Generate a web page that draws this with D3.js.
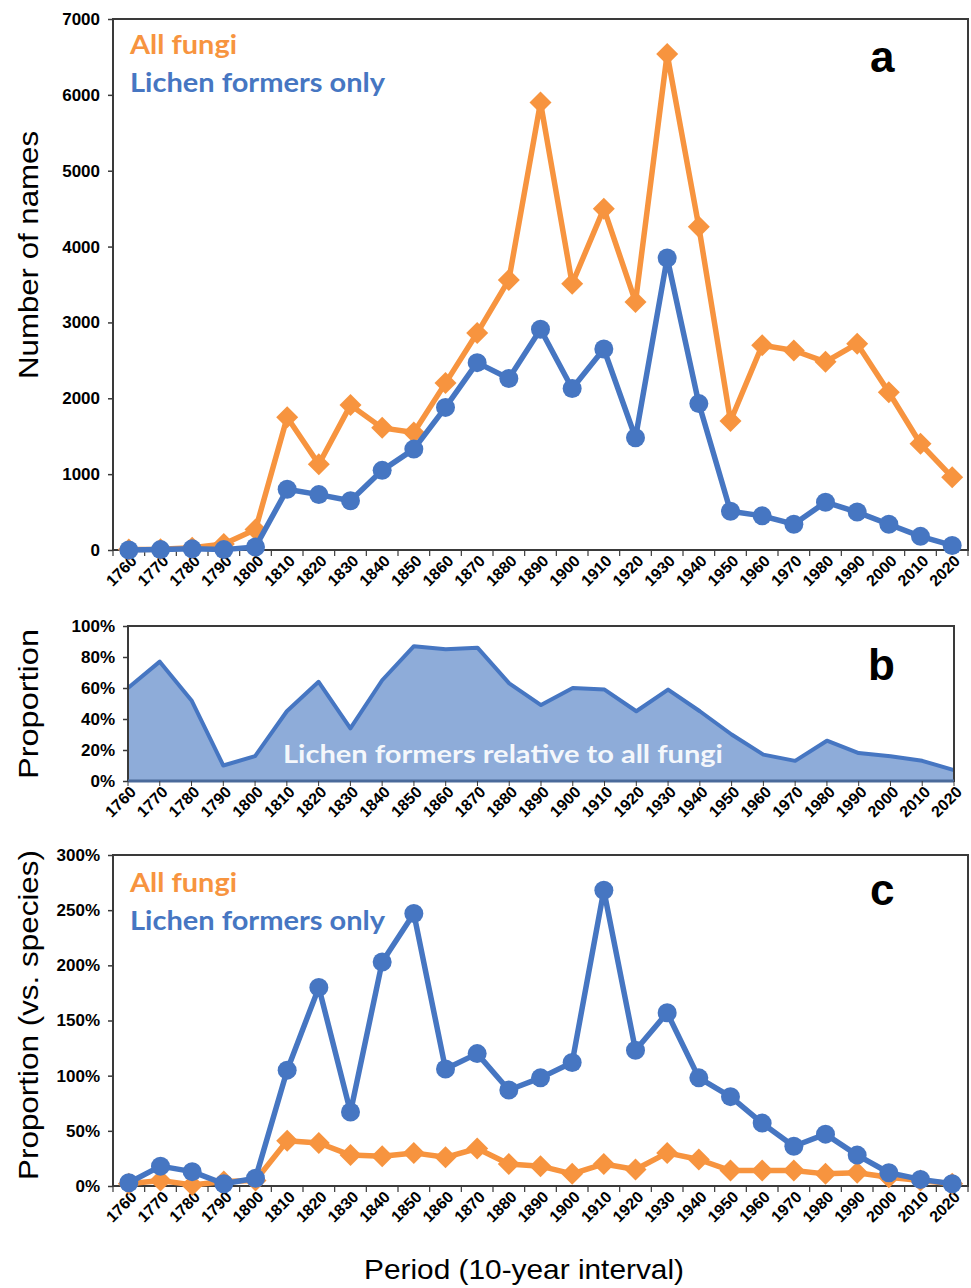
<!DOCTYPE html>
<html>
<head>
<meta charset="utf-8">
<script src="https://cdn.jsdelivr.net/npm/d3@7"></script>
<style>
  body { margin: 0; background: #fff; }
  svg { display: block; }
  .tick text { font-family: "Liberation Sans", Arial, sans-serif; font-weight: bold; fill: #000; }
</style>
</head>
<body>
<svg id="chart" width="971" height="1288"></svg>
<script>
// periode 10 tahunan
const periods = ["1760","1770","1780","1790","1800","1810","1820","1830","1840","1850","1860","1870","1880","1890",
                 "1900","1910","1920","1930","1940","1950","1960","1970","1980","1990","2000","2010","2020"];

// panel a: jumlah nama
const allFungiNames = [5, 10, 30, 80, 270, 1750, 1130, 1910, 1610, 1550, 2200, 2860, 3560, 5900,
                       3510, 4500, 3270, 6540, 4260, 1700, 2700, 2630, 2480, 2720, 2080, 1400, 960];
const lichenNames = [0, 5, 15, 5, 40, 800, 730, 650, 1050, 1330, 1880, 2470, 2260, 2910,
                     2130, 2650, 1480, 3850, 1930, 510, 450, 340, 630, 500, 340, 180, 60];

// panel b: proporsi lichen terhadap semua fungi
const lichenShare = [0.60, 0.77, 0.52, 0.10, 0.16, 0.45, 0.64, 0.34, 0.65, 0.87, 0.85, 0.86, 0.63, 0.49,
                     0.60, 0.59, 0.45, 0.59, 0.45, 0.30, 0.17, 0.13, 0.26, 0.18, 0.16, 0.13, 0.07];

// panel c: proporsi vs. spesies
const allFungiRatio = [0.02, 0.05, 0.01, 0.04, 0.05, 0.41, 0.39, 0.28, 0.27, 0.30, 0.26, 0.34, 0.20, 0.18,
                       0.11, 0.20, 0.15, 0.30, 0.24, 0.14, 0.14, 0.14, 0.11, 0.12, 0.08, 0.05, 0.02];
const lichenRatio = [0.03, 0.18, 0.13, 0.02, 0.07, 1.05, 1.80, 0.67, 2.03, 2.47, 1.06, 1.20, 0.87, 0.98,
                     1.12, 2.68, 1.23, 1.57, 0.98, 0.81, 0.57, 0.36, 0.47, 0.28, 0.12, 0.06, 0.02];

const ticksA = [0, 1000, 2000, 3000, 4000, 5000, 6000, 7000];
const ticksB = [0, 0.2, 0.4, 0.6, 0.8, 1.0];
const ticksC = [0, 0.5, 1.0, 1.5, 2.0, 2.5, 3.0];

const orange = "#f7943f";
const blue = "#4676c2";
const frame = "#3a3a3a";
const fontSans = "'Liberation Sans', Arial, sans-serif";
const fontCal = "Lato, 'Open Sans', sans-serif";

const svg = d3.select("#chart");

// fungsi bantu: kotak plot, sumbu, label tahun miring
function drawFrame(g, x0, x1, y0, y1) {
    g.append("rect")
        .attr("x", x0).attr("y", y0)
        .attr("width", x1 - x0).attr("height", y1 - y0)
        .attr("fill", "none")
        .attr("stroke", frame)
        .attr("stroke-width", 2);
}

function yAxis(g, scale, x0, ticks, fmt, size) {
    g.append("g")
        .attr("transform", `translate(${x0},0)`)
        .call(d3.axisLeft(scale).tickValues(ticks).tickSize(5).tickPadding(8).tickFormat(fmt))
        .call(a => a.select(".domain").remove())
        .call(a => a.selectAll(".tick line").attr("stroke", frame).attr("stroke-width", 1.5))
        .call(a => a.selectAll(".tick text").style("font-size", size + "px"));
}

function yearLabels(g, xPos, yBase) {
    g.append("g").selectAll("text")
        .data(periods)
        .join("text")
        .attr("transform", d => `translate(${xPos(d) + 9},${yBase}) rotate(-45)`)
        .attr("text-anchor", "end")
        .attr("font-family", fontSans)
        .attr("font-weight", "bold")
        .attr("font-size", 16)
        .text(d => d);
}

function boundaryTicks(g, xs, yBase) {
    const edges = periods.map(p => xs(p)).concat([xs(periods[periods.length - 1]) + xs.bandwidth()]);
    g.append("g").selectAll("line")
        .data(edges)
        .join("line")
        .attr("x1", d => d).attr("x2", d => d)
        .attr("y1", yBase).attr("y2", yBase + 6)
        .attr("stroke", frame)
        .attr("stroke-width", 1.2);
}

function diamondPath(cx, cy, r) {
    return `M${cx},${cy - r}L${cx + r},${cy}L${cx},${cy + r}L${cx - r},${cy}Z`;
}

function drawSeries(g, xs, ys, values, color, marker) {
    const pts = periods.map((p, i) => ({ p, v: values[i] }));
    const line = d3.line()
        .x(d => xs(d.p) + xs.bandwidth() / 2)
        .y(d => ys(d.v));
    g.append("path")
        .datum(pts)
        .attr("d", line)
        .attr("fill", "none")
        .attr("stroke", color)
        .attr("stroke-width", 5.5)
        .attr("stroke-linejoin", "round");
    if (marker === "circle") {
        g.append("g").selectAll("circle")
            .data(pts)
            .join("circle")
            .attr("cx", d => xs(d.p) + xs.bandwidth() / 2)
            .attr("cy", d => ys(d.v))
            .attr("r", 9.5)
            .attr("fill", color);
    } else {
        g.append("g").selectAll("path")
            .data(pts)
            .join("path")
            .attr("d", d => diamondPath(xs(d.p) + xs.bandwidth() / 2, ys(d.v), 11))
            .attr("fill", color);
    }
}

function legend(g, x, y) {
    g.append("text")
        .attr("x", x).attr("y", y)
        .attr("font-family", fontCal).attr("font-weight", "bold").attr("font-size", 26)
        .attr("textLength", 107).attr("lengthAdjust", "spacingAndGlyphs")
        .attr("fill", orange)
        .text("All fungi");
    g.append("text")
        .attr("x", x).attr("y", y + 38)
        .attr("font-family", fontCal).attr("font-weight", "bold").attr("font-size", 26)
        .attr("textLength", 255).attr("lengthAdjust", "spacingAndGlyphs")
        .attr("fill", blue)
        .text("Lichen formers only");
}

function panelLetter(g, x, y, t) {
    g.append("text")
        .attr("x", x).attr("y", y)
        .attr("font-family", fontSans).attr("font-weight", "bold").attr("font-size", 44)
        .text(t);
}

function yTitle(g, x, y, t, size, len) {
    g.append("text")
        .attr("transform", `translate(${x},${y}) rotate(-90)`)
        .attr("text-anchor", "middle")
        .attr("font-family", fontSans)
        .attr("font-size", size)
        .attr("textLength", len)
        .attr("lengthAdjust", "spacingAndGlyphs")
        .text(t);
}

// ===== Panel a =====
const aL = 113, aR = 968, aT = 19, aB = 550;
const xa = d3.scaleBand().domain(periods).range([aL, aR]).padding(0);
const ya = d3.scaleLinear().domain([0, 7000]).range([aB, aT]);
const ga = svg.append("g");

drawFrame(ga, aL, aR, aT, aB);
yAxis(ga, ya, aL, ticksA, d3.format("d"), 17);
boundaryTicks(ga, xa, aB);
yearLabels(ga, d => xa(d) + xa.bandwidth() / 2, aB + 12);
drawSeries(ga, xa, ya, allFungiNames, orange, "diamond");
drawSeries(ga, xa, ya, lichenNames, blue, "circle");
legend(ga, 130, 54);
panelLetter(ga, 870, 72, "a");
yTitle(ga, 38, 255, "Number of names", 28, 248);

// ===== Panel b =====
const bL = 128, bR = 954, bT = 626, bB = 781;
const xb = d3.scalePoint().domain(periods).range([bL, bR]);
const yb = d3.scaleLinear().domain([0, 1]).range([bB, bT]);
const gb = svg.append("g");

const area = d3.area()
    .x((d, i) => xb(periods[i]))
    .y0(bB)
    .y1(d => yb(d));
gb.append("path")
    .datum(lichenShare)
    .attr("d", area)
    .attr("fill", "#8eacd9");
gb.append("path")
    .datum(lichenShare)
    .attr("d", d3.line().x((d, i) => xb(periods[i])).y(d => yb(d)))
    .attr("fill", "none")
    .attr("stroke", blue)
    .attr("stroke-width", 4)
    .attr("stroke-linejoin", "round");

drawFrame(gb, bL, bR, bT, bB);
gb.append("line")
    .attr("x1", bL).attr("x2", bR).attr("y1", bB).attr("y2", bB)
    .attr("stroke", "#4a6a9a").attr("stroke-width", 3);
yAxis(gb, yb, bL, ticksB, d3.format(".0%"), 17);
gb.append("g").selectAll("line")
    .data(periods)
    .join("line")
    .attr("x1", d => xb(d)).attr("x2", d => xb(d))
    .attr("y1", bB).attr("y2", bB + 5)
    .attr("stroke", frame);
yearLabels(gb, d => xb(d), bB + 12);
gb.append("text")
    .attr("x", 503).attr("y", 763)
    .attr("text-anchor", "middle")
    .attr("font-family", fontCal).attr("font-weight", "bold").attr("font-size", 25)
    .attr("textLength", 440).attr("lengthAdjust", "spacingAndGlyphs")
    .attr("fill", "#fff").attr("fill-opacity", 0.92)
    .text("Lichen formers relative to all fungi");
panelLetter(gb, 868, 680, "b");
yTitle(gb, 38, 704, "Proportion", 28, 150);

// ===== Panel c =====
const cL = 113, cR = 968, cT = 855, cB = 1186;
const xc = d3.scaleBand().domain(periods).range([cL, cR]).padding(0);
const yc = d3.scaleLinear().domain([0, 3]).range([cB, cT]);
const gc = svg.append("g");

drawFrame(gc, cL, cR, cT, cB);
yAxis(gc, yc, cL, ticksC, d3.format(".0%"), 17);
boundaryTicks(gc, xc, cB);
yearLabels(gc, d => xc(d) + xc.bandwidth() / 2, cB + 12);
drawSeries(gc, xc, yc, allFungiRatio, orange, "diamond");
drawSeries(gc, xc, yc, lichenRatio, blue, "circle");
legend(gc, 130, 892);
panelLetter(gc, 870, 905, "c");
yTitle(gc, 38, 1015, "Proportion (vs. species)", 28, 330);

// judul sumbu x
svg.append("text")
    .attr("x", 524).attr("y", 1279)
    .attr("text-anchor", "middle")
    .attr("font-family", fontSans)
    .attr("font-size", 28)
    .attr("textLength", 320)
    .attr("lengthAdjust", "spacingAndGlyphs")
    .text("Period (10-year interval)");
</script>
</body>
</html>
